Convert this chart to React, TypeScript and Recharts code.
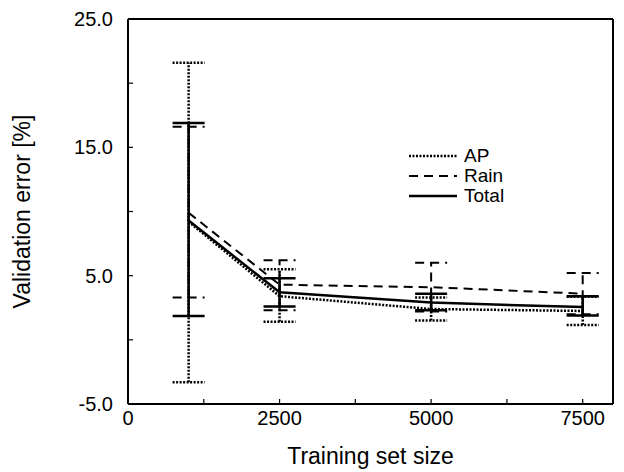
import React from 'react';
import { ComposedChart, Line, XAxis, YAxis, ErrorBar } from 'recharts';

const sizes = [1000, 2500, 5000, 7500];

const apMean = [9.2, 3.4, 2.4, 2.25];
const apLow = [-3.3, 1.4, 1.5, 1.15];
const apHigh = [21.6, 5.5, 3.3, 3.35];

const rainMean = [9.9, 4.3, 4.1, 3.6];
const rainLow = [3.3, 2.3, 2.2, 2.0];
const rainHigh = [16.6, 6.2, 6.0, 5.2];

const totalMean = [9.3, 3.7, 2.9, 2.55];
const totalLow = [1.85, 2.6, 2.3, 1.9];
const totalHigh = [16.9, 4.8, 3.6, 3.4];

const xTicks = [0, 1250, 2500, 3750, 5000, 6250, 7500];
const xLabels = [0, 2500, 5000, 7500];
const yTicks = [-5, 0, 5, 10, 15, 20, 25];
const yLabels = [-5, 5, 15, 25];

// error bars take [below, above] offsets from the mean
const data = sizes.map((size, i) => ({
  size,
  ap: apMean[i],
  apErr: [apMean[i] - apLow[i], apHigh[i] - apMean[i]],
  rain: rainMean[i],
  rainErr: [rainMean[i] - rainLow[i], rainHigh[i] - rainMean[i]],
  total: totalMean[i],
  totalErr: [totalMean[i] - totalLow[i], totalHigh[i] - totalMean[i]],
}));

const FONT = 'Liberation Sans, Arial, Helvetica, sans-serif';

const series = [
  { key: 'ap', name: 'AP', dash: '2 1.5', width: 2.5 },
  { key: 'rain', name: 'Rain', dash: '9 6', width: 2 },
  { key: 'total', name: 'Total', dash: undefined as string | undefined, width: 2.5 },
];

function LegendBox() {
  return (
    <div style={{ position: 'absolute', left: 409, top: 146, fontFamily: FONT, fontSize: 19, color: '#000', lineHeight: '20px' }}>
      {series.map((s) => (
        <div key={s.key} style={{ display: 'flex', alignItems: 'center', height: 20 }}>
          <svg width={48} height={6} style={{ marginRight: 7 }}>
            <line x1={0} y1={3} x2={48} y2={3} stroke="#000" strokeWidth={s.width} strokeDasharray={s.dash} />
          </svg>
          <span>{s.name}</span>
        </div>
      ))}
    </div>
  );
}

const axisLine = { stroke: '#000', strokeWidth: 2 };
const tickLine = { stroke: '#000', strokeWidth: 1.2 };

export default function App() {
  return (
    <div style={{ position: 'absolute', left: 0, top: 0, width: 624, height: 472, background: '#fff' }}>
      <ComposedChart width={624} height={472} data={data} margin={{ top: 18, right: 10, left: 0, bottom: 0 }}>
        <XAxis
          xAxisId={0}
          dataKey="size"
          type="number"
          domain={[0, 8000]}
          ticks={xTicks}
          tickFormatter={(v: number) => (xLabels.includes(v) ? String(v) : '')}
          height={68}
          tickSize={-5}
          tickMargin={12}
          axisLine={axisLine}
          tickLine={tickLine}
          tick={{ fill: '#000', fontSize: 20, fontFamily: FONT }}
          interval={0}
          label={{ value: 'Training set size', position: 'insideBottom', offset: 8, fill: '#000', fontSize: 23, fontFamily: FONT }}
        />
        <XAxis
          xAxisId="top"
          orientation="top"
          dataKey="size"
          type="number"
          domain={[0, 8000]}
          ticks={xTicks}
          height={1}
          tickSize={-5}
          axisLine={axisLine}
          tickLine={tickLine}
          tick={false}
          interval={0}
        />
        <YAxis
          yAxisId={0}
          type="number"
          domain={[-5, 25]}
          allowDataOverflow
          ticks={yTicks}
          tickFormatter={(v: number) => (yLabels.includes(v) ? v.toFixed(1) : '')}
          width={128}
          tickSize={-5}
          tickMargin={20}
          axisLine={axisLine}
          tickLine={tickLine}
          tick={{ fill: '#000', fontSize: 20, fontFamily: FONT }}
          interval={0}
          label={{ value: 'Validation error [%]', angle: -90, position: 'insideLeft', offset: 22, fill: '#000', fontSize: 23, fontFamily: FONT, style: { textAnchor: 'middle' } }}
        />
        <YAxis
          yAxisId="right"
          orientation="right"
          type="number"
          domain={[-5, 25]}
          allowDataOverflow
          ticks={yTicks}
          width={1}
          tickSize={-5}
          axisLine={axisLine}
          tickLine={tickLine}
          tick={false}
          interval={0}
        />
        {/* invisible series so the top and right frame axes get drawn */}
        <Line
          xAxisId="top"
          yAxisId="right"
          dataKey="total"
          stroke="none"
          dot={false}
          activeDot={false}
          legendType="none"
          isAnimationActive={false}
        />
        {series.map((s) => (
          <Line
            key={s.key}
            dataKey={s.key}
            name={s.name}
            type="linear"
            stroke="#000"
            strokeWidth={s.width}
            strokeDasharray={s.dash}
            dot={false}
            isAnimationActive={false}
          >
            <ErrorBar
              dataKey={`${s.key}Err`}
              direction="y"
              width={16}
              stroke="#000"
              strokeWidth={s.width}
              strokeDasharray={s.dash}
            />
          </Line>
        ))}
      </ComposedChart>
      <LegendBox />
    </div>
  );
}
